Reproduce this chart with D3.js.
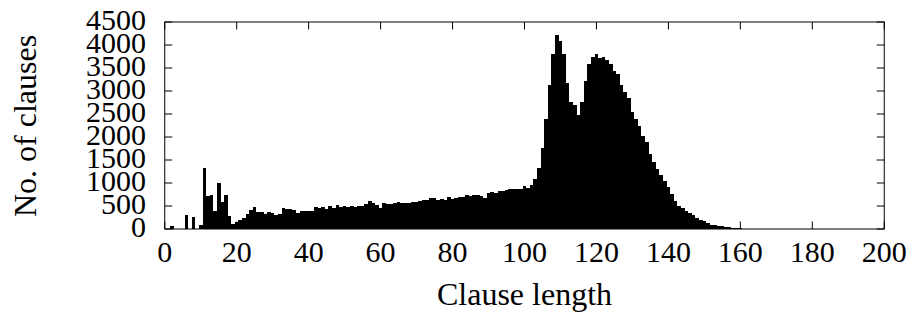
<!DOCTYPE html>
<html>
  <head>
    <meta http-equiv="content-type" content="text/html; charset=UTF-8">
    <title>clause lengths</title>
    <script type='text/javascript' src='https://d3js.org/d3.v7.min.js'></script>
    <style type='text/css'>
      body { margin: 0; background-color: white; }
      text { font-family: "Liberation Serif", "DejaVu Serif", serif; fill: black; }
    </style>
  </head>
  <body>
    <script type='text/javascript'>
      // number of clauses for each clause length 0, 1, 2, ...
      var counts = [
        0, 0, 65, 0, 0, 0, 305, 0, 260, 0,
        85, 1330, 720, 740, 390, 1000, 590, 740, 285, 110,
        150, 200, 235, 325, 415, 470, 370, 370, 326, 375,
        348, 304, 320, 457, 445, 425, 415, 355, 395, 395,
        395, 395, 478, 450, 478, 442, 500, 464, 520, 486,
        500, 478, 500, 486, 493, 495, 536, 614, 558, 529,
        464, 558, 543, 543, 572, 587, 572, 572, 572, 580,
        594, 609, 623, 640, 667, 665, 638, 652, 630, 688,
        645, 674, 688, 703, 739, 717, 739, 739, 728, 681,
        775, 804, 783, 826, 830, 845, 862, 878, 866, 880,
        938, 902, 966, 1090, 1319, 1768, 2391, 3125, 3810, 4217,
        4090, 3800, 3181, 2768, 2690, 2478, 2760, 3220, 3595, 3745,
        3810, 3720, 3730, 3674, 3580, 3430, 3369, 3130, 2985, 2840,
        2547, 2400, 2239, 2022, 1895, 1630, 1464, 1310, 1174, 1040,
        920, 760, 600, 510, 450, 400, 345, 300, 230, 196,
        174, 138, 87, 80, 65, 58, 50, 36, 22, 22,
        15, 8
      ];
      var xTicks = [0, 20, 40, 60, 80, 100, 120, 140, 160, 180, 200];
      var yTicks = [0, 500, 1000, 1500, 2000, 2500, 3000, 3500, 4000, 4500];

      window.onload = function() {
        var w = 913, h = 320;
        var plotL = 164.75, plotR = 884.25, plotT = 22, plotB = 229;
        var tick = 7.5;

        var svg = d3.select("body").append("svg")
          .attr("width", w).attr("height", h);
        svg.append("rect").attr("width", w).attr("height", h).style("fill", "white");

        var x = d3.scaleLinear().domain([0, 200]).range([plotL, plotR]);
        var y = d3.scaleLinear().domain([0, 4500]).range([plotB, plotT]);
        var bw = x(1) - x(0);

        svg.append("g").selectAll("rect")
          .data(counts)
          .join("rect")
            .attr("x", function(d, i) { return x(i - 0.5); })
            .attr("y", function(d) { return y(d); })
            .attr("width", bw)
            .attr("height", function(d) { return y(0) - y(d); })
            .attr("shape-rendering", "crispEdges")
            .style("fill", "black");

        // inward ticks on all four sides, gnuplot style
        var axes = svg.append("g").style("stroke", "black").style("stroke-width", 1);
        xTicks.forEach(function(t) {
          axes.append("line").attr("x1", x(t)).attr("x2", x(t)).attr("y1", plotB).attr("y2", plotB - tick);
          axes.append("line").attr("x1", x(t)).attr("x2", x(t)).attr("y1", plotT).attr("y2", plotT + tick);
        });
        yTicks.forEach(function(t) {
          axes.append("line").attr("x1", plotL).attr("x2", plotL + tick).attr("y1", y(t)).attr("y2", y(t));
          axes.append("line").attr("x1", plotR).attr("x2", plotR - tick).attr("y1", y(t)).attr("y2", y(t));
        });
        axes.append("rect")
          .attr("x", plotL).attr("y", plotT)
          .attr("width", plotR - plotL).attr("height", plotB - plotT)
          .style("fill", "none");

        svg.append("g").selectAll("text")
          .data(xTicks)
          .join("text")
            .attr("x", function(d) { return x(d); })
            .attr("y", 262)
            .attr("text-anchor", "middle")
            .style("font-size", "30px")
            .text(function(d) { return d; });

        svg.append("g").selectAll("text")
          .data(yTicks)
          .join("text")
            .attr("x", 146)
            .attr("y", function(d) { return y(d) + 8; })
            .attr("text-anchor", "end")
            .style("font-size", "30px")
            .text(function(d) { return d; });

        svg.append("text")
          .attr("x", (plotL + plotR) / 2).attr("y", 305)
          .attr("text-anchor", "middle")
          .style("font-size", "32px")
          .text("Clause length");

        svg.append("text")
          .attr("transform", "translate(36,126) rotate(-90)")
          .attr("text-anchor", "middle")
          .style("font-size", "32px")
          .text("No. of clauses");
      };
    </script>
  </body>
</html>
